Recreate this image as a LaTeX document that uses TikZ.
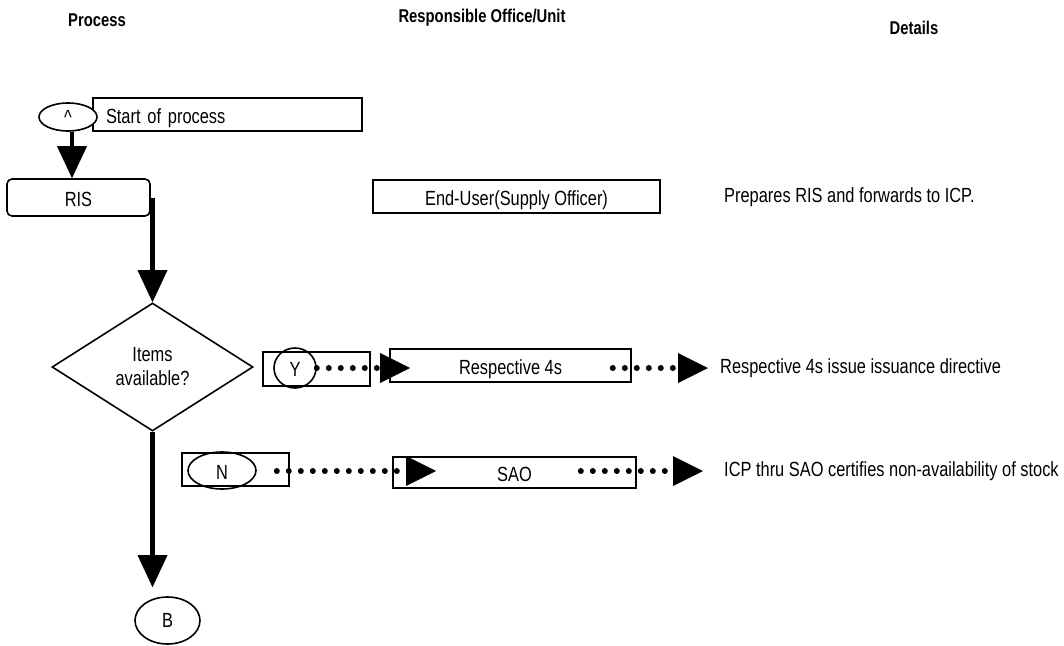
\documentclass[tikz,border=0pt]{standalone}
\usepackage{fontspec}
\setmainfont[FakeStretch=0.8]{Liberation Sans}
\usetikzlibrary{arrows.meta,shapes.geometric,calc}

\tikzset{
  txt/.style={inner sep=0pt, font=\fontsize{20.5}{24}\selectfont},
  head/.style={inner sep=0pt, font=\fontsize{18.5}{21}\selectfont\bfseries},
  frame/.style={draw, line width=1.6pt, inner sep=0pt, text height=17pt, text depth=0pt,
    font=\fontsize{20.5}{24}\selectfont},
  oval/.style={ellipse, draw, line width=1.6pt, inner sep=0pt, font=\fontsize{20.5}{24}\selectfont},
  flow/.style={line width=4.8pt, -{Triangle[length=32pt,width=30pt,line width=0pt]}},
  dotflow/.style={line width=6pt, line cap=round, dash pattern=on 0pt off 12pt,
    -{Triangle[length=30pt,width=30pt,line width=0pt]}},
}

\begin{document}
\begin{tikzpicture}[x=1pt,y=-1pt]
\useasboundingbox (0,0) rectangle (1064,645);

% column headings
\node[head] (hProc) at (97,20) {Process};
\node[head] (hResp) at (482,18) {Responsible Office/Unit};
\node[head] (hDet) at (914,28) {Details};

% start connector and label
\node[frame, minimum width=269pt, minimum height=33pt, text width=243pt,
      inner xsep=13pt, align=left] (startBox) at (227.5,114.5) {Start of process};
\node[oval, fill=white, minimum width=58pt, minimum height=28pt] (startOval) at (68,117) {\textasciicircum};

% RIS step
\node[frame, rounded corners=5pt, minimum width=143pt, minimum height=37pt] (ris) at (78.5,197.5) {RIS};
\node[frame, minimum width=287pt, minimum height=33pt] (endUser) at (516.5,196.5) {End-User(Supply Officer)};
\node[txt, anchor=west] (det0) at (724,197) {Prepares RIS and forwards to ICP.};

\draw[flow] ([xshift=4pt]startOval.south) -- ([xshift=-6.5pt]ris.north);

% decision
\node[diamond, draw, line width=1.6pt, shape aspect=1.57, minimum width=201pt,
      minimum height=128pt, inner sep=0pt, align=center,
      font=\fontsize{20.5}{24}\selectfont] (dia) at (152.5,367) {Items\\available?};
\draw[flow] (ris.east -| dia.north) -- (dia.north);

% yes branch
\node[frame, minimum width=107pt, minimum height=34pt] (yBox) at (316.5,369) {};
\node[oval, minimum width=42pt, minimum height=40pt, text height=17pt, text depth=0pt] (yOval) at (295,368) {Y};
\node[frame, minimum width=241pt, minimum height=33pt] (r4s) at (510.5,365.5) {Respective 4s};
\node[txt, anchor=west] (det1) at (720,368) {Respective 4s issue issuance directive};

\path (r4s.west |- yOval.east) ++(21,0) coordinate (yTip);
\draw[dotflow] (yOval.east) -- (yTip);
\path (r4s.east |- det1.west) ++(-19,0) coordinate (r4sOut);
\draw[dotflow] (r4sOut) -- ([xshift=-12pt]det1.west);

% no branch
\node[frame, minimum width=107pt, minimum height=33pt] (nBox) at (235.5,469.5) {};
\node[oval, minimum width=68pt, minimum height=37pt, text height=17pt, text depth=0pt] (nOval) at (222,470.5) {N};
\node[frame, minimum width=243pt, minimum height=31pt] (sao) at (514.5,472.5) {SAO};
\node[txt, anchor=west] (det2) at (724,471) {ICP thru SAO certifies non-availability of stock};

\path (nBox.east |- det2.west) ++(-13,0) coordinate (nOut);
\path (sao.west |- det2.west) ++(44,0) coordinate (nTip);
\draw[dotflow] (nOut) -- (nTip);
\path (sao.east |- det2.west) ++(-56,0) coordinate (saoOut);
\draw[dotflow] (saoOut) -- ([xshift=-21pt]det2.west);

% continuation to connector B
\node[oval, minimum width=65pt, minimum height=47pt] (bOval) at (167.5,620.5) {B};
\path (dia.south |- bOval.north) ++(0,-9) coordinate (bTip);
\draw[flow] (dia.south) -- (bTip);
\end{tikzpicture}
\end{document}
